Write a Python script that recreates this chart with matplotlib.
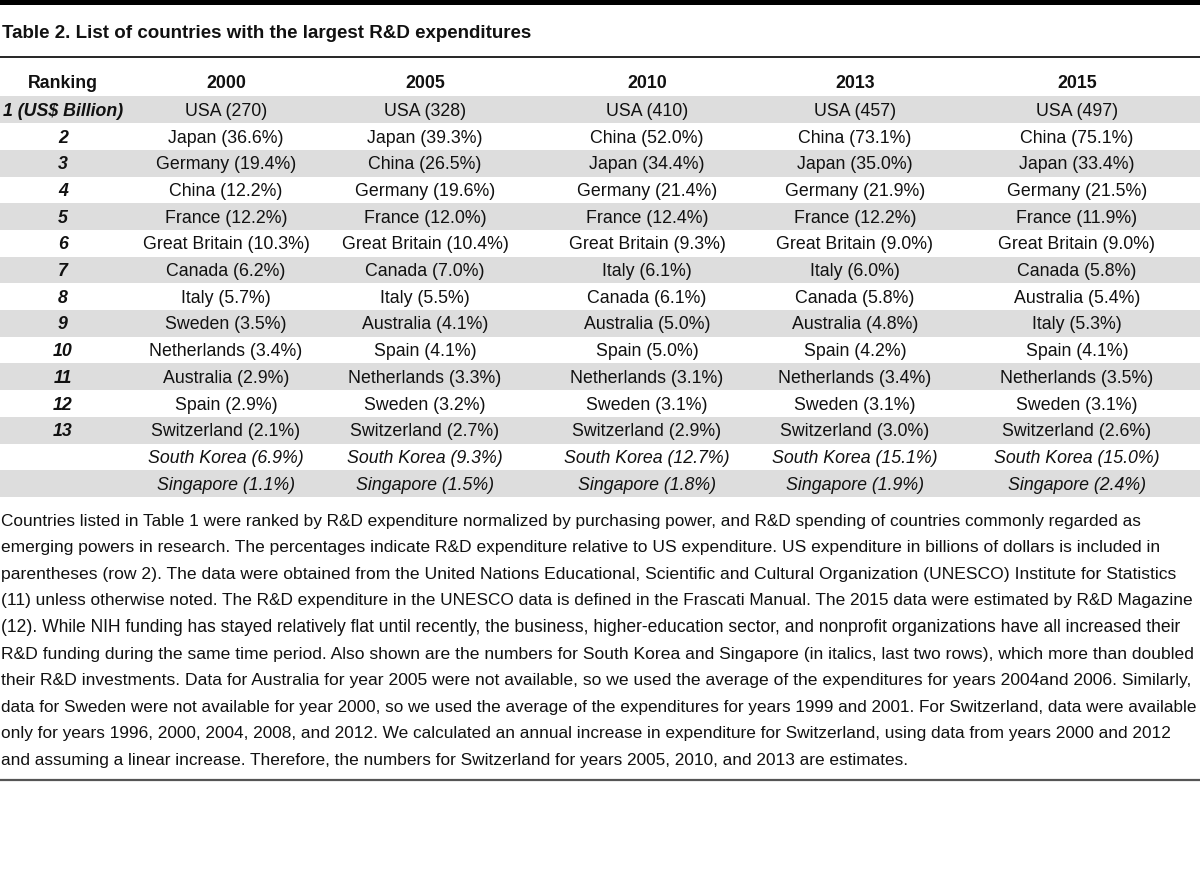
import matplotlib
matplotlib.use("Agg")
import matplotlib.pyplot as plt
from matplotlib.patches import Rectangle

# --- table data ---
years = ["2000", "2005", "2010", "2013", "2015"]
ranks = ["1 (US$ Billion)"] + [str(i) for i in range(2, 14)] + ["", ""]
usa_billion = [270, 328, 410, 457, 497]

countries_2000 = ["Japan", "Germany", "China", "France", "Great Britain", "Canada", "Italy",
                  "Sweden", "Netherlands", "Australia", "Spain", "Switzerland"]
share_2000 = [36.6, 19.4, 12.2, 12.2, 10.3, 6.2, 5.7, 3.5, 3.4, 2.9, 2.9, 2.1]

countries_2005 = ["Japan", "China", "Germany", "France", "Great Britain", "Canada", "Italy",
                  "Australia", "Spain", "Netherlands", "Sweden", "Switzerland"]
share_2005 = [39.3, 26.5, 19.6, 12.0, 10.4, 7.0, 5.5, 4.1, 4.1, 3.3, 3.2, 2.7]

countries_2010 = ["China", "Japan", "Germany", "France", "Great Britain", "Italy", "Canada",
                  "Australia", "Spain", "Netherlands", "Sweden", "Switzerland"]
share_2010 = [52.0, 34.4, 21.4, 12.4, 9.3, 6.1, 6.1, 5.0, 5.0, 3.1, 3.1, 2.9]

countries_2013 = ["China", "Japan", "Germany", "France", "Great Britain", "Italy", "Canada",
                  "Australia", "Spain", "Netherlands", "Sweden", "Switzerland"]
share_2013 = [73.1, 35.0, 21.9, 12.2, 9.0, 6.0, 5.8, 4.8, 4.2, 3.4, 3.1, 3.0]

countries_2015 = ["China", "Japan", "Germany", "France", "Great Britain", "Canada", "Australia",
                  "Italy", "Spain", "Netherlands", "Sweden", "Switzerland"]
share_2015 = [75.1, 33.4, 21.5, 11.9, 9.0, 5.8, 5.4, 5.3, 4.1, 3.5, 3.1, 2.6]

south_korea = [6.9, 9.3, 12.7, 15.1, 15.0]
singapore = [1.1, 1.5, 1.8, 1.9, 2.4]

title = "Table 2. List of countries with the largest R&D expenditures"
footnote = [
    "Countries listed in Table 1 were ranked by R&D expenditure normalized by purchasing power, and R&D spending of countries commonly regarded as",
    "emerging powers in research. The percentages indicate R&D expenditure relative to US expenditure. US expenditure in billions of dollars is included in",
    "parentheses (row 2). The data were obtained from the United Nations Educational, Scientific and Cultural Organization (UNESCO) Institute for Statistics",
    "(11) unless otherwise noted. The R&D expenditure in the UNESCO data is defined in the Frascati Manual. The 2015 data were estimated by R&D Magazine",
    "(12). While NIH funding has stayed relatively flat until recently, the business, higher-education sector, and nonprofit organizations have all increased their",
    "R&D funding during the same time period. Also shown are the numbers for South Korea and Singapore (in italics, last two rows), which more than doubled",
    "their R&D investments. Data for Australia for year 2005 were not available, so we used the average of the expenditures for years 2004and 2006. Similarly,",
    "data for Sweden were not available for year 2000, so we used the average of the expenditures for years 1999 and 2001. For Switzerland, data were available",
    "only for years 1996, 2000, 2004, 2008, and 2012. We calculated an annual increase in expenditure for Switzerland, using data from years 2000 and 2012",
    "and assuming a linear increase. Therefore, the numbers for Switzerland for years 2005, 2010, and 2013 are estimates.",
]
# right edge of each footnote line in the reference (px)
footnote_ends = [1140, 1157, 1175, 1186, 1186, 1192, 1191, 1192, 1165, 905]

# build the column strings
columns = []
for usa, names, shares, sk, sg in zip(
        usa_billion,
        [countries_2000, countries_2005, countries_2010, countries_2013, countries_2015],
        [share_2000, share_2005, share_2010, share_2013, share_2015],
        south_korea, singapore):
    col = [f"USA ({usa})"]
    col += [f"{n} ({s:.1f}%)" for n, s in zip(names, shares)]
    col += [f"South Korea ({sk:.1f}%)", f"Singapore ({sg:.1f}%)"]
    columns.append(col)

# --- layout (pixels) ---
W, H = 1200, 871
FONT = "Liberation Sans"
FS = 12.8
col_x = [63, 226, 425, 647, 855, 1077]
row_top = 96.5
row_h = 26.7
shade = "#dddddd"
ink = "#111111"

fig = plt.figure(figsize=(W / 100, H / 100), dpi=100)
ax = fig.add_axes([0, 0, 1, 1])
ax.set_xlim(0, W)
ax.set_ylim(H, 0)
ax.axis("off")

# rules
ax.add_patch(Rectangle((0, 0), W, 5, color="black", lw=0))
ax.plot([0, W], [57, 57], color="black", lw=1.2)
ax.plot([0, W], [780, 780], color="#555555", lw=1.6)

ax.text(2, 33, title, fontsize=13.5, fontweight="bold", family=FONT,
        va="center", ha="left", color=ink, parse_math=False)

# header
ax.text(col_x[0], 84, "Ranking", fontsize=FS, fontweight="bold", family=FONT,
        ha="center", va="center", color=ink)
for x, yr in zip(col_x[1:], years):
    ax.text(x, 84, yr, fontsize=FS, fontweight="bold", family=FONT,
            ha="center", va="center", color=ink)

n_rows = len(ranks)
for i in range(n_rows):
    top = row_top + i * row_h
    if i % 2 == 0:
        ax.add_patch(Rectangle((0, top), W, row_h, color=shade, lw=0))
    yc = top + row_h / 2 + 1.5
    ax.text(col_x[0], yc, ranks[i], fontsize=FS, fontweight="bold", style="italic",
            family=FONT, ha="center", va="center", color=ink, parse_math=False)
    italic = i >= n_rows - 2
    for x, col in zip(col_x[1:], columns):
        ax.text(x, yc, col[i], fontsize=FS, family=FONT,
                style="italic" if italic else "normal",
                ha="center", va="center", color=ink)

# footnote: each line sized to end where the reference line ends
renderer = fig.canvas.get_renderer()
for j, (line, end) in enumerate(zip(footnote, footnote_ends)):
    t = ax.text(1, 521 + j * 26.6, line, fontsize=12.6, family=FONT,
                ha="left", va="center", color=ink, parse_math=False)
    w = t.get_window_extent(renderer).width
    t.set_fontsize(12.6 * (end - 1) / w)

fig.savefig("out.png", dpi=100, facecolor="white")
